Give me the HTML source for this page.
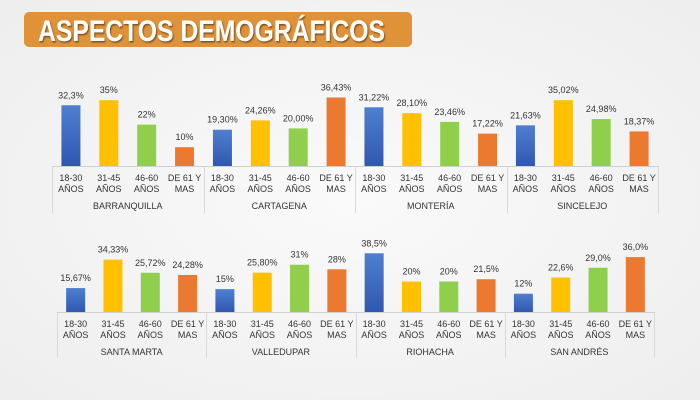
<!DOCTYPE html>
<html><head><meta charset="utf-8">
<style>
html,body{margin:0;padding:0;width:700px;height:400px;overflow:hidden;background:#f4f4f4;}
svg{display:block;font-family:"Liberation Sans",sans-serif;}
</style></head><body>
<svg id="s" width="700" height="400" viewBox="0 0 700 400" xmlns="http://www.w3.org/2000/svg">
<defs>
<radialGradient id="bg" cx="0.5" cy="0.5" r="0.8"><stop offset="0" stop-color="#fafafa"/><stop offset="1" stop-color="#ececec"/></radialGradient>
<linearGradient id="gb" x1="0" y1="0" x2="0" y2="1"><stop offset="0" stop-color="#4f7fd0"/><stop offset="1" stop-color="#2f58b0"/></linearGradient>
<filter id="sh"><feDropShadow dx="1" dy="1.5" stdDeviation="0.8" flood-color="#000" flood-opacity="0.45"/></filter>
</defs>
<rect width="700" height="400" fill="url(#bg)"/>
<rect x="24" y="12" width="388" height="35" rx="5" fill="#df9238"/>
<text x="38" y="41" font-size="30" font-weight="bold" fill="#fff" textLength="347" lengthAdjust="spacingAndGlyphs" filter="url(#sh)">ASPECTOS DEMOGRÁFICOS</text>
<g id="g"></g>
</svg>
<script>
var NS="http://www.w3.org/2000/svg",g=document.getElementById("g");
function el(t,a,txt){var e=document.createElementNS(NS,t);for(var k in a)e.setAttribute(k,a[k]);if(txt!==undefined)e.textContent=txt;g.appendChild(e);return e;}
var cols=["url(#gb)","#ffc000","#8fcf4c","#eb7a30"];
var cats=[["18-30","AÑOS"],["31-45","AÑOS"],["46-60","AÑOS"],["DE 61 Y","MAS"]];
function panel(x0,x1,base,scale,ly1,ly2,ly3,bot,groups){
  var w=(x1-x0)/4;
  el("line",{x1:x0,y1:base+0.5,x2:x1,y2:base+0.5,stroke:"#d0d0d0","stroke-width":1});
  for(var i=0;i<=4;i++){var x=Math.round(x0+i*w)+0.5;el("line",{x1:x,y1:base,x2:x,y2:bot,stroke:"#d8d8d8","stroke-width":1});}
  groups.forEach(function(gr,gi){
    var gx=x0+gi*w,cw=w/4;
    gr.v.forEach(function(v,j){
      var cx=gx+cw*(j+0.5),h=v*scale;
      el("rect",{x:cx-9.5,y:base-h,width:19,height:h,fill:cols[j]});
      el("text",{x:cx,y:base-h-7,"font-size":9,"text-anchor":"middle",fill:"#333"},gr.l[j]);
      el("text",{x:cx,y:ly1,"font-size":9,"text-anchor":"middle",fill:"#333"},cats[j][0]);
      el("text",{x:cx,y:ly2,"font-size":9,"text-anchor":"middle",fill:"#333"},cats[j][1]);
    });
    el("text",{x:gx+w/2,y:ly3,"font-size":9,"text-anchor":"middle",fill:"#333"},gr.n);
  });
}
panel(52,658,166,1.88,181,192,209,213,[
 {n:"BARRANQUILLA",v:[32.3,35,22,10],l:["32,3%","35%","22%","10%"]},
 {n:"CARTAGENA",v:[19.3,24.26,20,36.43],l:["19,30%","24,26%","20,00%","36,43%"]},
 {n:"MONTERÍA",v:[31.22,28.1,23.46,17.22],l:["31,22%","28,10%","23,46%","17,22%"]},
 {n:"SINCELEJO",v:[21.63,35.02,24.98,18.37],l:["21,63%","35,02%","24,98%","18,37%"]}]);
panel(57,654,312,1.525,327,338,355,358,[
 {n:"SANTA MARTA",v:[15.67,34.33,25.72,24.28],l:["15,67%","34,33%","25,72%","24,28%"]},
 {n:"VALLEDUPAR",v:[15,25.8,31,28],l:["15%","25,80%","31%","28%"]},
 {n:"RIOHACHA",v:[38.5,20,20,21.5],l:["38,5%","20%","20%","21,5%"]},
 {n:"SAN ANDRÉS",v:[12,22.6,29,36],l:["12%","22,6%","29,0%","36,0%"]}]);
</script>
</body></html>
